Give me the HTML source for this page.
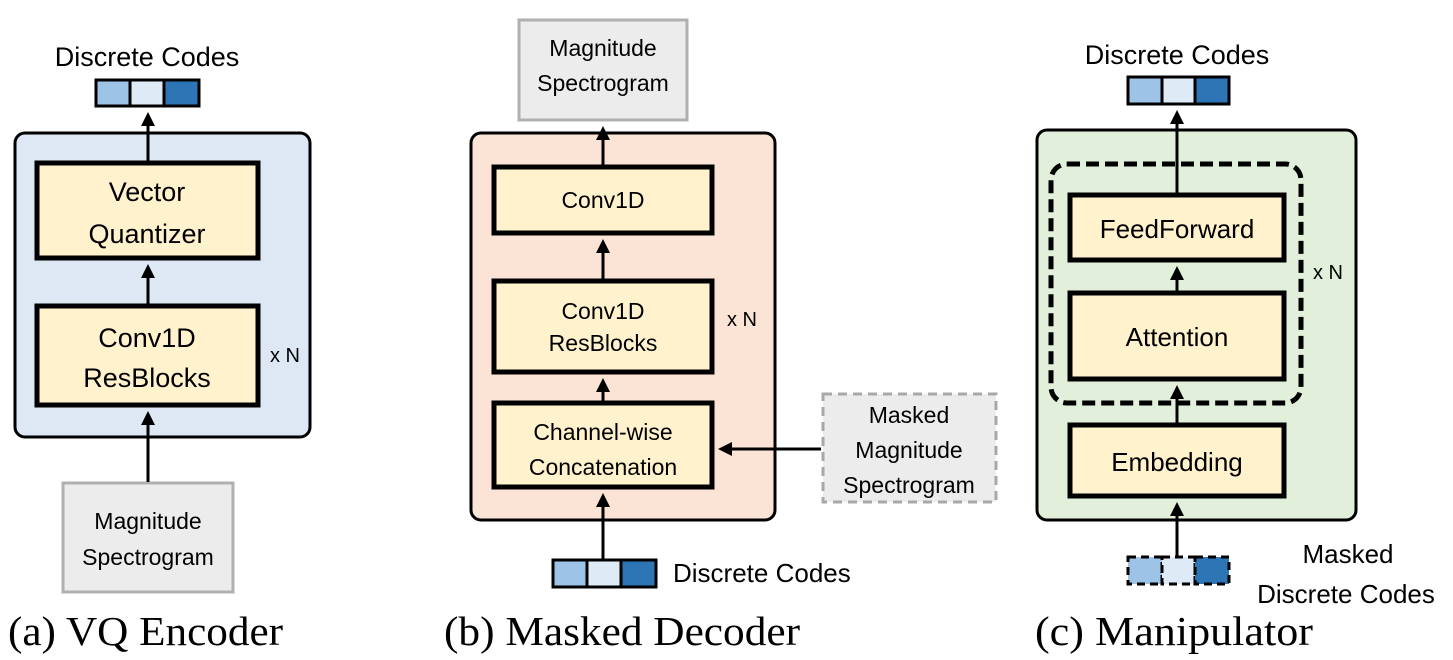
<!DOCTYPE html>
<html><head><style>
html,body{margin:0;padding:0;background:#fff;width:1453px;height:660px;overflow:hidden}
text{font-family:"Liberation Sans",sans-serif;fill:#000}
.s{font-family:"Liberation Serif",serif}
</style></head><body>
<svg width="1453" height="660" viewBox="0 0 1453 660" xmlns="http://www.w3.org/2000/svg">
<defs>
<marker id="ah" markerWidth="14" markerHeight="14" refX="7" refY="7" orient="auto" markerUnits="userSpaceOnUse" viewBox="0 0 14 14">
<path d="M0,0 L14,7 L0,14 z" fill="#000"/></marker>
</defs>
<g stroke="#000" stroke-width="3.5" fill="none">
<rect x="15" y="133" width="295" height="304" rx="10" fill="#dee8f4" stroke-width="3"/>
<rect x="37" y="163" width="221" height="95" fill="#fff2cc" stroke-width="5"/>
<rect x="37" y="306" width="221" height="99" fill="#fff2cc" stroke-width="5"/>
<rect x="63" y="483" width="170" height="109" fill="#ececec" stroke="#b0b0b0" stroke-width="3"/>
<rect x="96" y="80" width="34" height="26" fill="#9dc3e6" stroke-width="3"/>
<rect x="130" y="80" width="34" height="26" fill="#deebf7" stroke-width="3"/>
<rect x="164" y="80" width="35" height="26" fill="#2e75b6" stroke-width="3"/>
<line x1="148" y1="161" x2="148" y2="119" marker-end="url(#ah)" stroke-width="3"/>
<line x1="148" y1="304" x2="148" y2="271" marker-end="url(#ah)" stroke-width="3"/>
<line x1="148" y1="482" x2="148" y2="418" marker-end="url(#ah)" stroke-width="3"/>

<rect x="471" y="133" width="304" height="387" rx="10" fill="#fbe3d6" stroke-width="3"/>
<rect x="494" y="167" width="218" height="66" fill="#fff2cc" stroke-width="5"/>
<rect x="494" y="281" width="218" height="91" fill="#fff2cc" stroke-width="5"/>
<rect x="494" y="403" width="218" height="84" fill="#fff2cc" stroke-width="5"/>
<rect x="519" y="20" width="168" height="100" fill="#ececec" stroke="#b0b0b0" stroke-width="3"/>
<rect x="823" y="394" width="173" height="108" fill="#ececec" stroke="#a8a8a8" stroke-width="3" stroke-dasharray="9,6"/>
<rect x="553" y="560" width="34" height="27" fill="#9dc3e6" stroke-width="3"/>
<rect x="587" y="560" width="34" height="27" fill="#deebf7" stroke-width="3"/>
<rect x="621" y="560" width="35" height="27" fill="#2e75b6" stroke-width="3"/>
<line x1="603" y1="165" x2="603" y2="133" marker-end="url(#ah)" stroke-width="3"/>
<line x1="603" y1="279" x2="603" y2="246" marker-end="url(#ah)" stroke-width="3"/>
<line x1="603" y1="401" x2="603" y2="385" marker-end="url(#ah)" stroke-width="3"/>
<line x1="603" y1="559" x2="603" y2="500" marker-end="url(#ah)" stroke-width="3"/>
<line x1="821" y1="449" x2="725" y2="449" marker-end="url(#ah)" stroke-width="3"/>

<rect x="1037" y="130" width="319" height="390" rx="10" fill="#e2efda" stroke-width="3"/>
<rect x="1051" y="164" width="250" height="239" rx="16" stroke-width="5" stroke-dasharray="13,6"/>
<rect x="1070" y="195" width="214" height="65" fill="#fff2cc" stroke-width="5"/>
<rect x="1070" y="293" width="214" height="86" fill="#fff2cc" stroke-width="5"/>
<rect x="1070" y="425" width="214" height="71" fill="#fff2cc" stroke-width="5"/>
<rect x="1128" y="77" width="34" height="27" fill="#9dc3e6" stroke-width="3"/>
<rect x="1162" y="77" width="33" height="27" fill="#deebf7" stroke-width="3"/>
<rect x="1195" y="77" width="34" height="27" fill="#2e75b6" stroke-width="3"/>
<line x1="1177" y1="193" x2="1177" y2="117" marker-end="url(#ah)" stroke-width="3"/>
<line x1="1177" y1="291" x2="1177" y2="273" marker-end="url(#ah)" stroke-width="3"/>
<line x1="1177" y1="423" x2="1177" y2="392" marker-end="url(#ah)" stroke-width="3"/>
<line x1="1177" y1="557" x2="1177" y2="509" marker-end="url(#ah)" stroke-width="3"/>
<rect x="1128" y="557" width="34" height="27" fill="#9dc3e6" stroke-width="3" stroke-dasharray="8,5"/>
<rect x="1162" y="557" width="33" height="27" fill="#deebf7" stroke-width="3" stroke-dasharray="8,5"/>
<rect x="1195" y="557" width="34" height="27" fill="#2e75b6" stroke-width="3" stroke-dasharray="8,5"/>
</g>
<g text-anchor="middle">
<text x="147" y="66" font-size="27">Discrete Codes</text>
<text x="147" y="201" font-size="27">Vector</text>
<text x="147" y="243" font-size="27">Quantizer</text>
<text x="147" y="347" font-size="27">Conv1D</text>
<text x="147" y="387" font-size="27">ResBlocks</text>
<text x="285" y="362" font-size="20">x N</text>
<text x="148" y="529" font-size="23">Magnitude</text>
<text x="148" y="565" font-size="23">Spectrogram</text>

<text x="603" y="56" font-size="23">Magnitude</text>
<text x="603" y="91" font-size="23">Spectrogram</text>
<text x="603" y="208" font-size="23">Conv1D</text>
<text x="603" y="319" font-size="23">Conv1D</text>
<text x="603" y="351" font-size="23">ResBlocks</text>
<text x="603" y="440" font-size="23">Channel-wise</text>
<text x="603" y="475" font-size="23">Concatenation</text>
<text x="742" y="326" font-size="20">x N</text>
<text x="909" y="423" font-size="23">Masked</text>
<text x="909" y="458" font-size="23">Magnitude</text>
<text x="909" y="493" font-size="23">Spectrogram</text>
<text x="673" y="582" font-size="26" text-anchor="start">Discrete Codes</text>

<text x="1177" y="64" font-size="27">Discrete Codes</text>
<text x="1177" y="238" font-size="26">FeedForward</text>
<text x="1177" y="346" font-size="26">Attention</text>
<text x="1177" y="471" font-size="26">Embedding</text>
<text x="1328" y="279" font-size="20">x N</text>
<text x="1348" y="563" font-size="26">Masked</text>
<text x="1346" y="603" font-size="26">Discrete Codes</text>
</g>
<text class="s" x="8" y="645" font-size="41" textLength="275" lengthAdjust="spacingAndGlyphs">(a) VQ Encoder</text>
<text class="s" x="444" y="645" font-size="41" textLength="356" lengthAdjust="spacingAndGlyphs">(b) Masked Decoder</text>
<text class="s" x="1035" y="645" font-size="41" textLength="278" lengthAdjust="spacingAndGlyphs">(c) Manipulator</text>
</svg>
</body></html>
